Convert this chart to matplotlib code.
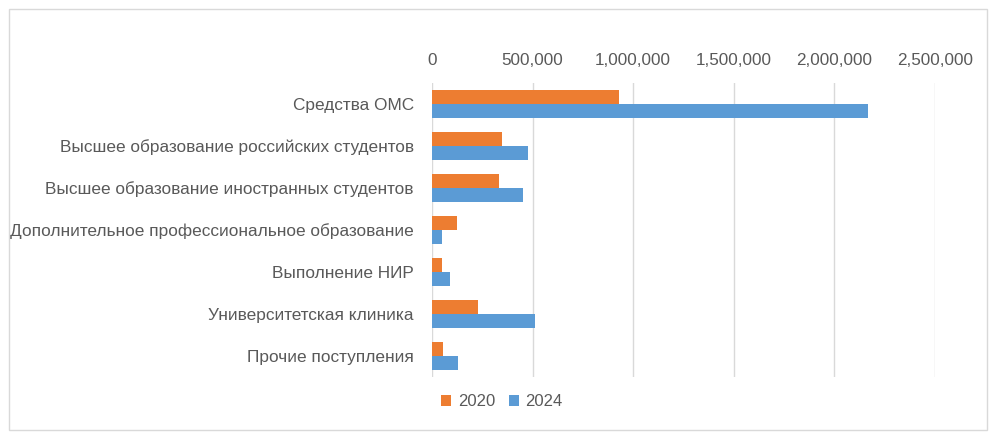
import matplotlib
matplotlib.use('Agg')
import matplotlib.pyplot as plt
from matplotlib.patches import Rectangle
from matplotlib.ticker import FuncFormatter
import numpy as np

plt.rcParams['font.family'] = ['Liberation Sans', 'DejaVu Sans']

categories = [
    'Средства ОМС',
    'Высшее образование российских студентов',
    'Высшее образование иностранных студентов',
    'Дополнительное профессиональное образование',
    'Выполнение НИР',
    'Университетская клиника',
    'Прочие поступления',
]
values_2020 = [928000, 346000, 333000, 122000, 52000, 229000, 55000]
values_2024 = [2167000, 477000, 453000, 50000, 87000, 510000, 127000]
years = ['2020', '2024']

col_2020 = '#ed7d31'
col_2024 = '#5b9bd5'
text_col = '#595959'

fig = plt.figure(figsize=(9.96, 4.46), dpi=100)
ax = fig.add_axes([432/996, 1 - 377/446, (935 - 432)/996, (377 - 83)/446])

y = np.arange(len(categories))
h = 0.333
ax.barh(y - h/2, values_2020, height=h, color=col_2020, label=years[0], zorder=3)
ax.barh(y + h/2, values_2024, height=h, color=col_2024, label=years[1], zorder=3)

ax.set_ylim(len(categories) - 0.5, -0.5)
ax.set_xlim(0, 2500000)
ax.set_xticks(np.arange(0, 2500001, 500000))
ax.xaxis.set_major_formatter(FuncFormatter(lambda v, p: f'{int(v):,}'))
ax.xaxis.tick_top()
ax.set_yticks(y)
ax.set_yticklabels(categories)
ax.tick_params(axis='x', length=0, pad=10.5, labelsize=12.3, colors=text_col)
ax.tick_params(axis='y', length=0, pad=13, labelsize=12.4, colors=text_col)
ax.grid(axis='x', color='#d9d9d9', linewidth=1, zorder=0)
for s in ax.spines.values():
    s.set_visible(False)

leg = fig.legend(loc='center', bbox_to_anchor=(502/996, 1 - 402/446), ncol=2,
                 frameon=False, fontsize=12, handlelength=0.6, handleheight=0.6,
                 handletextpad=0.4, columnspacing=0.8)
for t in leg.get_texts():
    t.set_color(text_col)

fig.patches.append(Rectangle((9/996, 1 - 430/446), (987 - 9)/996, (430 - 9)/446,
                             transform=fig.transFigure, fill=False,
                             edgecolor='#d9d9d9', linewidth=1))

fig.savefig('out.png', dpi=100)
